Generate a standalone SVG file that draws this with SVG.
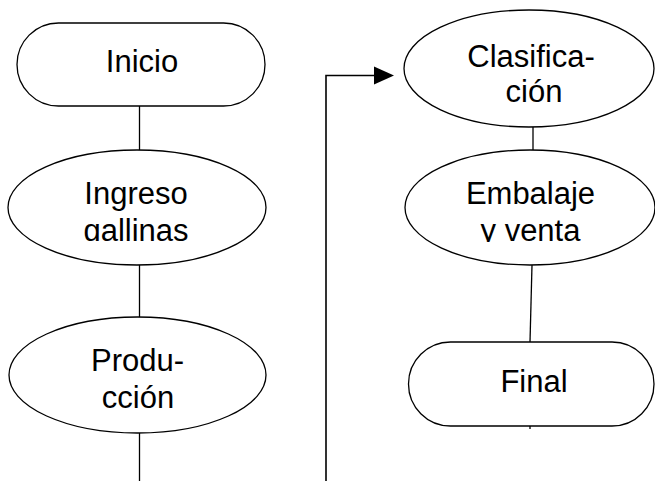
<svg xmlns="http://www.w3.org/2000/svg" width="655" height="481" viewBox="0 0 655 481">
<style>
.shape{fill:#fff;stroke:#000;stroke-width:1.3}
.conn{fill:none;stroke:#000;stroke-width:1.3}
.thick{fill:none;stroke:#000;stroke-width:1.6}
text{font-family:"Liberation Sans",Arial,sans-serif;font-size:31px;fill:#000;text-anchor:middle}
</style>
<defs>
<clipPath id="c1"><rect x="0" y="0" width="300" height="241"/></clipPath>
<clipPath id="c2"><rect x="350" y="0" width="305" height="242"/></clipPath>
</defs>
<rect width="655" height="481" fill="#fff"/>
<g id="connectors">
<line class="conn" x1="139.5" y1="106" x2="139.5" y2="150"/>
<line class="conn" x1="139.5" y1="265" x2="139.5" y2="317"/>
<line class="conn" x1="139.5" y1="433" x2="139.5" y2="481"/>
<polyline class="thick" points="326,481 326,75.5 376,75.5"/>
<polygon points="374,66.5 394,75.5 374,84.5" fill="#000"/>
<line class="conn" x1="533" y1="127" x2="533" y2="150"/>
<line class="conn" x1="532" y1="265" x2="530" y2="342"/>
<line class="conn" x1="530" y1="426" x2="530" y2="429"/>
</g>
<g id="inicio">
<rect class="shape" x="17" y="23" width="248" height="83" rx="41.5" ry="41.5"/>
<text x="142" y="72">Inicio</text>
</g>
<g id="ingreso">
<ellipse class="shape" cx="137" cy="207.5" rx="129" ry="57.5"/>
<g clip-path="url(#c1)">
<text x="136" y="204">Ingreso</text>
<text x="136" y="241">gallinas</text>
</g>
</g>
<g id="produccion">
<ellipse class="shape" cx="137.5" cy="375" rx="128.5" ry="58"/>
<text x="137.5" y="371">Produ-</text>
<text x="138" y="408">cción</text>
</g>
<g id="clasificacion">
<ellipse class="shape" cx="529" cy="68.5" rx="125" ry="58.5"/>
<text x="531" y="67">Clasifica-</text>
<text x="534" y="102">ción</text>
</g>
<g id="embalaje">
<ellipse class="shape" cx="530" cy="207.5" rx="125" ry="57.5"/>
<g clip-path="url(#c2)">
<text x="530.5" y="204">Embalaje</text>
<text x="530.5" y="241">y venta</text>
</g>
</g>
<g id="final">
<rect class="shape" x="408.5" y="342" width="245.5" height="84" rx="42" ry="42"/>
<text x="534" y="392">Final</text>
</g>
</svg>
